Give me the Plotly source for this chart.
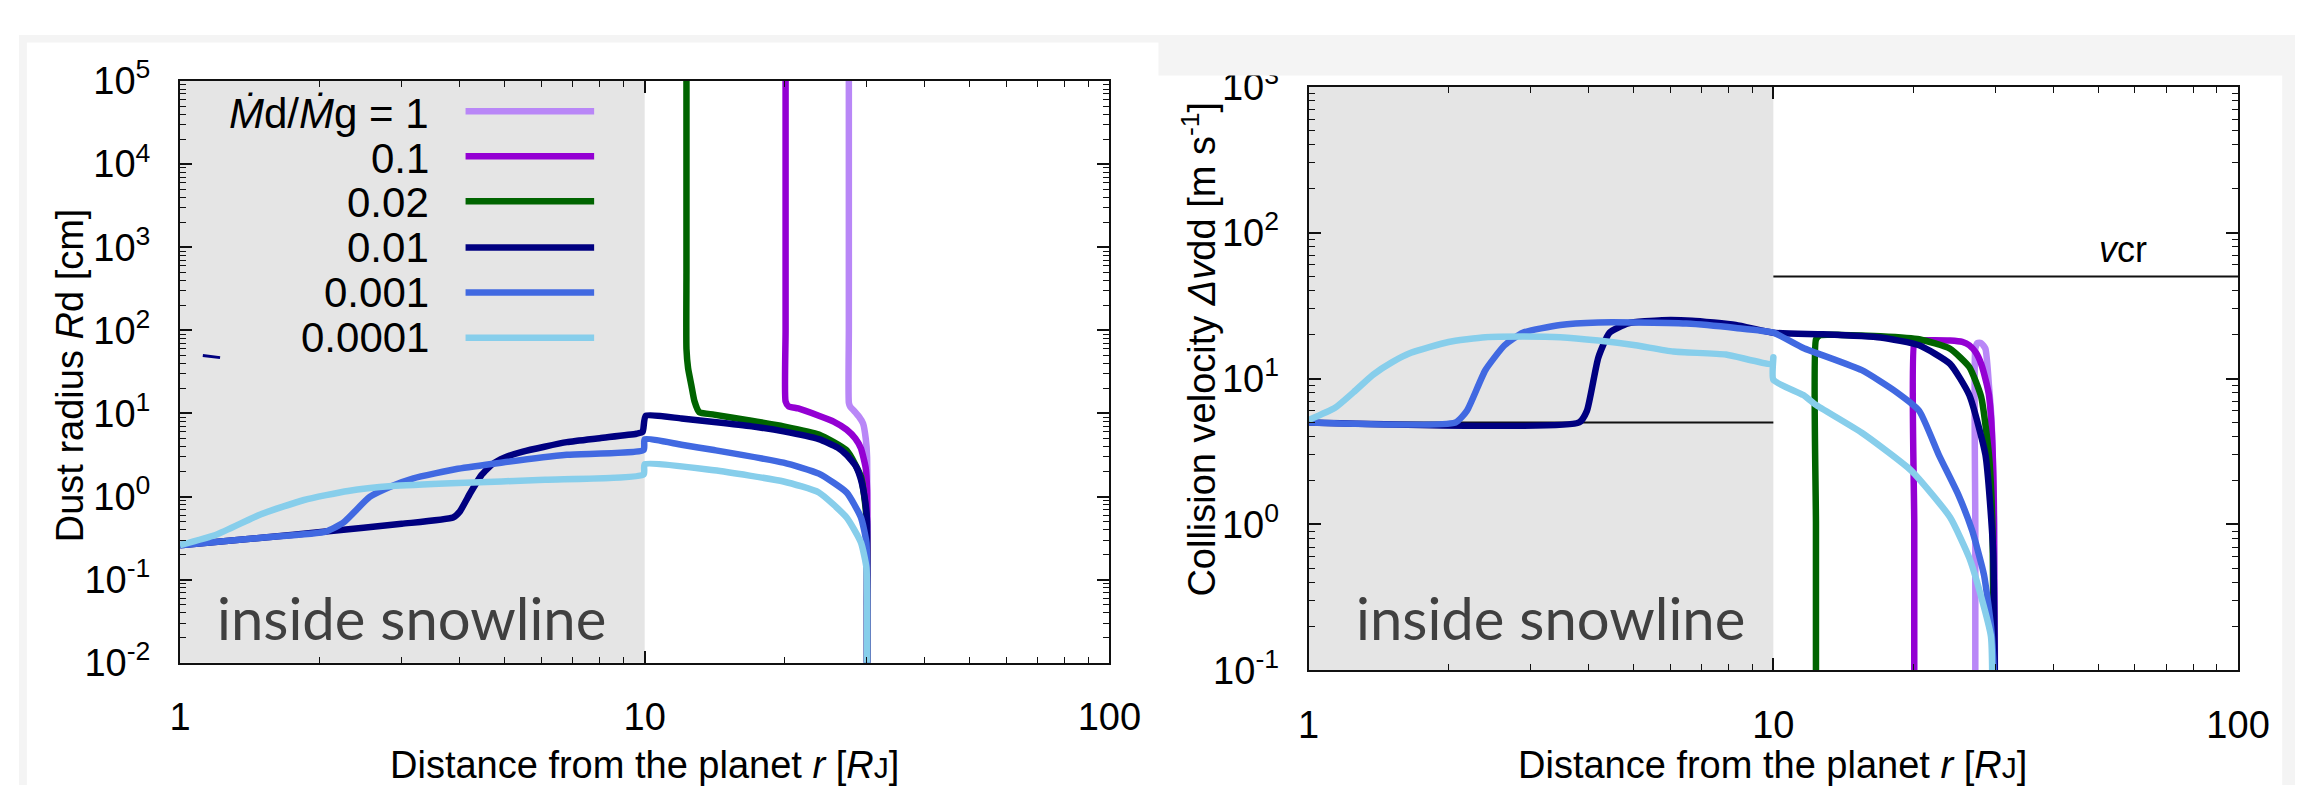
import plotly.graph_objects as go

W, H = 2319, 798

# ---------------- series definitions ----------------
series_labels = ["1", "0.1", "0.02", "0.01", "0.001", "0.0001"]
series_colors = ["#b987f7", "#9400d3", "#006400", "#000080", "#4169e1", "#87ceeb"]

# Left panel: dust radius Rd [cm] vs distance r [RJ]
rd_r_1 = [27.5, 27.5, 27.5, 27.5, 27.7, 28.2, 28.9, 29.5, 29.9, 30.1, 30.1, 30.1]
rd_1 = [3e5, 1e4, 100, 13.5, 12.0, 10.8, 9.2, 7.6, 5.0, 3.0, 0.1, 5e-3]

rd_r_2 = [20.1, 20.1, 20.1, 20.1, 20.4, 21.4, 23.7, 25.5, 27.2, 28.4, 29.2, 29.9, 30.1, 30.1, 30.1]
rd_2 = [3e5, 1e4, 100, 14.0, 12.2, 11.5, 9.4, 8.0, 6.4, 5.0, 3.8, 2.2, 1.2, 0.1, 5e-3]

rd_r_3 = [12.3, 12.3, 12.3, 12.3, 12.4, 12.6, 12.8, 13.1, 14.1, 16.7, 19.9, 23.7, 27.2, 29.2, 30.0,
          30.1, 30.1]
rd_3 = [3e5, 1e4, 500, 60, 35, 22, 14, 10.4, 9.7, 8.3, 7.0, 5.6, 3.6, 1.74, 0.57, 0.1, 5e-3]

rd_r_4 = [1.0, 1.5, 2.06, 3.0, 3.87, 4.0, 4.22, 4.45, 4.7, 5.0, 5.47, 6.8, 8.0, 9.6, 9.9, 10.05,
          12.0, 14.1, 17.0, 19.9, 23.7, 26.0, 27.2, 28.5, 29.2, 29.8, 30.1, 30.1, 30.1]
rd_4 = [0.26, 0.32, 0.38, 0.47, 0.56, 0.66, 1.12, 1.8, 2.45, 2.95, 3.48, 4.52, 5.05, 5.7, 6.0, 9.4,
        8.7, 7.9, 7.0, 6.1, 4.92, 3.9, 3.18, 2.3, 1.6, 0.9, 0.5, 0.05, 5e-3]

rd_r_5 = [1.0, 1.5, 2.06, 2.25, 2.56, 2.86, 3.18, 3.96, 4.91, 6.8, 9.95, 10.0, 12.0, 14.1, 19.9,
          23.7, 27.2, 29.2, 30.0, 30.1, 30.1]
rd_5 = [0.26, 0.32, 0.38, 0.49, 0.99, 1.34, 1.66, 2.16, 2.56, 3.18, 3.65, 4.9, 4.2, 3.63, 2.56,
        1.89, 1.12, 0.56, 0.28, 0.05, 5e-3]

rd_r_6 = [1.0, 1.2, 1.49, 1.85, 2.3, 2.86, 3.96, 6.1, 9.95, 10.0, 14.1, 19.9, 23.7, 27.2, 29.2,
          30.0, 30.1, 30.1]
rd_6 = [0.26, 0.35, 0.61, 0.91, 1.17, 1.34, 1.46, 1.59, 1.85, 2.45, 2.07, 1.52, 1.12, 0.56, 0.28,
        0.14, 0.04, 5e-3]

# small stray segment near r ~ 1.1
rd_r_stray = [1.12, 1.22]
rd_stray = [50.0, 47.0]

# Right panel: collision velocity [m/s] vs distance r [RJ]
dv_r_1 = [27.2, 27.2, 27.2, 27.5, 28.0, 28.6, 29.1, 29.5, 29.9, 30.0]
dv_1 = [5e-2, 1.0, 16.0, 17.5, 17.5, 16.0, 9.0, 5.0, 1.0, 5e-2]

dv_r_2 = [20.1, 20.1, 20.1, 20.5, 22.0, 24.0, 25.5, 26.4, 27.3, 28.0, 28.7, 29.1, 29.5, 29.8, 29.9]
dv_2 = [5e-2, 1.0, 17.5, 18.2, 18.3, 18.2, 17.8, 16.9, 15.0, 12.6, 9.5, 7.7, 4.5, 1.5, 5e-2]

dv_r_3 = [12.35, 12.35, 12.35, 12.6, 14.0, 17.0, 20.6, 24.0, 26.4, 28.0, 29.1, 29.6, 29.8]
dv_3 = [5e-2, 1.0, 18.5, 19.8, 19.9, 19.5, 18.6, 16.0, 12.0, 7.5, 3.0, 1.0, 5e-2]

dv_r_4 = [1.0, 3.82, 3.97, 4.2, 4.44, 4.87, 5.76, 6.68, 8.3, 10.0, 12.8, 17.0, 20.6, 24.0, 26.4,
          28.6, 29.7, 30.0]
dv_4 = [5.0, 5.0, 6.0, 13.9, 20.6, 23.9, 25.1, 24.9, 23.3, 20.6, 20.1, 19.1, 16.9, 12.6, 7.7,
        3.0, 0.68, 5e-2]

dv_r_5 = [1.0, 2.07, 2.19, 2.4, 2.64, 2.89, 3.48, 4.2, 5.05, 6.5, 8.3, 10.0, 11.6, 15.5, 18.4,
          20.6, 22.7, 25.0, 26.8, 28.4, 29.4, 29.8, 29.9]
dv_5 = [5.0, 5.0, 6.0, 11.4, 16.9, 20.6, 23.3, 24.2, 24.2, 23.8, 22.2, 20.6, 16.2, 11.4, 8.07,
        6.0, 3.0, 1.6, 0.9, 0.45, 0.2, 0.1, 5e-2]

dv_r_6 = [1.0, 1.14, 1.25, 1.375, 1.51, 1.66, 2.0, 2.4, 2.89, 3.48, 4.2, 5.05, 6.09, 7.9, 9.95,
          10.0, 10.0, 11.6, 12.3, 15.5, 19.8, 24.0, 26.4, 28.0, 29.4, 29.6]
dv_6 = [5.2, 6.3, 8.07, 10.6, 12.9, 15.0, 17.8, 19.2, 19.4, 19.2, 18.2, 16.9, 15.3, 14.6, 12.6,
        14.0, 9.8, 7.7, 6.65, 4.25, 2.34, 1.12, 0.59, 0.32, 0.17, 5e-2]

# reference velocities
v_low_r = [1.0, 10.0]
v_low = [5.0, 5.0]
v_cr_r = [10.0, 100.0]
v_cr = [50.0, 50.0]

# ticks
x_ticks = [1, 10, 100]
x_ticklabels = ["1", "10", "100"]
x_minor = [k for k in range(2, 10)] + [10 * k for k in range(2, 10)]
y1_ticks = [10.0 ** e for e in range(-2, 6)]
y1_ticklabels = ["10<sup>%d</sup>" % e for e in range(-2, 6)]
y1_minor = [k * 10.0 ** e for e in range(-2, 5) for k in range(2, 10)]
y2_ticks = [10.0 ** e for e in range(-1, 4)]
y2_ticklabels = ["10<sup>%d</sup>" % e for e in range(-1, 4)]
y2_minor = [k * 10.0 ** e for e in range(-1, 3) for k in range(2, 10)]

# ---------------- figure ----------------
FONT = "Liberation Sans, Arial, Helvetica, sans-serif"
LW = 6.5

fig = go.Figure()

rd_sets = [(rd_r_1, rd_1), (rd_r_2, rd_2), (rd_r_3, rd_3), (rd_r_4, rd_4), (rd_r_5, rd_5), (rd_r_6, rd_6)]
for (xr, yv), lab, col in zip(rd_sets, series_labels, series_colors):
    fig.add_trace(go.Scatter(x=xr, y=yv, mode="lines", name=lab, showlegend=False,
                             line=dict(color=col, width=LW, shape="spline", smoothing=0.5),
                             xaxis="x", yaxis="y"))
fig.add_trace(go.Scatter(x=rd_r_stray, y=rd_stray, mode="lines", showlegend=False,
                         line=dict(color="#000080", width=3), xaxis="x", yaxis="y"))

fig.add_trace(go.Scatter(x=v_low_r, y=v_low, mode="lines", showlegend=False,
                         line=dict(color="#111", width=2), xaxis="x2", yaxis="y2"))
fig.add_trace(go.Scatter(x=v_cr_r, y=v_cr, mode="lines", showlegend=False,
                         line=dict(color="#111", width=2), xaxis="x2", yaxis="y2"))
dv_sets = [(dv_r_1, dv_1), (dv_r_2, dv_2), (dv_r_3, dv_3), (dv_r_4, dv_4), (dv_r_5, dv_5), (dv_r_6, dv_6)]
for (xr, yv), lab, col in zip(dv_sets, series_labels, series_colors):
    fig.add_trace(go.Scatter(x=xr, y=yv, mode="lines", name=lab, showlegend=False,
                             line=dict(color=col, width=LW, shape="spline", smoothing=0.5),
                             xaxis="x2", yaxis="y2"))


def px(x):
    return x / W


def py(y):
    return 1 - y / H


def axis_common(tickvals, ticktext, minorvals, rng):
    return dict(
        type="log", range=rng, showline=True, linecolor="#111", linewidth=2, mirror="allticks",
        ticks="inside", ticklen=12, tickwidth=1.5, tickcolor="#111",
        tickvals=tickvals, ticktext=ticktext,
        minor=dict(ticks="inside", ticklen=6, tickwidth=1.2, tickcolor="#111",
                   tickmode="array", tickvals=minorvals, showgrid=False),
        showgrid=False, zeroline=False,
        tickfont=dict(family=FONT, size=38, color="black"),
        ticklabelstandoff=20,
    )


fig.update_layout(
    width=W, height=H, autosize=False,
    margin=dict(l=0, r=0, t=0, b=0),
    paper_bgcolor="white", plot_bgcolor="white",
    showlegend=False,
    xaxis=dict(domain=[px(164), px(1111)], anchor="y", **axis_common(x_ticks, x_ticklabels, x_minor, [0, 2])),
    yaxis=dict(domain=[py(668), py(49)], anchor="x", **axis_common(y1_ticks, y1_ticklabels, y1_minor, [-2, 5])),
    xaxis2=dict(domain=[px(1314), px(2261)], anchor="y2", **axis_common(x_ticks, x_ticklabels, x_minor, [0, 2])),
    yaxis2=dict(domain=[py(676), py(55)], anchor="x2", **axis_common(y2_ticks, y2_ticklabels, y2_minor, [-1, 3])),
)

shapes = []
# shaded "inside snowline" regions (r from 1 to 10 = left half of log axis)
for xa, ya in (("x", "y"), ("x2", "y2")):
    shapes.append(dict(type="rect", xref=xa + " domain", yref=ya + " domain", x0=0, x1=0.5, y0=0, y1=1,
                       fillcolor="#e5e5e5", line=dict(width=0), layer="below"))
# legend samples
leg_y = [81, 129, 177, 226, 274, 322]
for yy, col in zip(leg_y, series_colors):
    shapes.append(dict(type="line", xref="paper", yref="paper", x0=px(455), x1=px(586),
                       y0=py(yy), y1=py(yy), line=dict(color=col, width=6.5)))
# light page margins of the screenshot
band = "#f4f4f4"
shapes += [
    dict(type="rect", xref="paper", yref="paper", x0=0, x1=1, y0=py(8), y1=1, fillcolor=band,
         line=dict(width=0), layer="above"),
    dict(type="rect", xref="paper", yref="paper", x0=px(1161), x1=1, y0=py(43), y1=1, fillcolor=band,
         line=dict(width=0), layer="above"),
    dict(type="rect", xref="paper", yref="paper", x0=0, x1=px(8), y0=0, y1=1, fillcolor=band,
         line=dict(width=0), layer="above"),
    dict(type="rect", xref="paper", yref="paper", x0=px(2306), x1=1, y0=0, y1=1, fillcolor=band,
         line=dict(width=0), layer="above"),
]
fig.update_layout(shapes=shapes)

ann = []
leg_text = ["<i>Ṁ</i>d/<i>Ṁ</i>g = 1"] + series_labels[1:]
leg_text_y = [84, 131, 178, 226, 274, 322]
for t, yy in zip(leg_text, leg_text_y):
    ann.append(dict(text=t, xref="paper", yref="paper", x=px(420), y=py(yy), xanchor="right",
                    yanchor="middle", showarrow=False, font=dict(family=FONT, size=42, color="black")))

title_font = dict(family=FONT, size=38, color="black")
xtitle = "Distance from the planet <i>r</i> [<i>R</i><span style='font-size:30px'>J</span>]"
ann.append(dict(text=xtitle, xref="paper", yref="paper", x=px(637), y=py(777), xanchor="center",
                yanchor="middle", showarrow=False, font=title_font))
ann.append(dict(text=xtitle, xref="paper", yref="paper", x=px(1787), y=py(777), xanchor="center",
                yanchor="middle", showarrow=False, font=title_font))
ann.append(dict(text="Dust radius <i>R</i>d [cm]", xref="paper", yref="paper", x=px(52), y=py(362),
                xanchor="center", yanchor="middle", textangle=-90, showarrow=False, font=title_font))
ann.append(dict(text="Collision velocity <i>Δv</i>dd [m s<sup>-1</sup>]", xref="paper", yref="paper",
                x=px(1202), y=py(334), xanchor="center", yanchor="middle", textangle=-90,
                showarrow=False, font=title_font))
ann.append(dict(text="<i>v</i>cr", xref="paper", yref="paper", x=px(2144), y=py(228), xanchor="center",
                yanchor="middle", showarrow=False, font=dict(family=FONT, size=36, color="black")))

snow_font = dict(family="Lato, Open Sans, sans-serif", size=58, color="#404040")
ann.append(dict(text="inside snowline", xref="paper", yref="paper", x=px(200), y=py(620), xanchor="left",
                yanchor="middle", showarrow=False, font=snow_font))
ann.append(dict(text="inside snowline", xref="paper", yref="paper", x=px(1360), y=py(620), xanchor="left",
                yanchor="middle", showarrow=False, font=snow_font))
fig.update_layout(annotations=ann)

fig.write_html("out.html")
